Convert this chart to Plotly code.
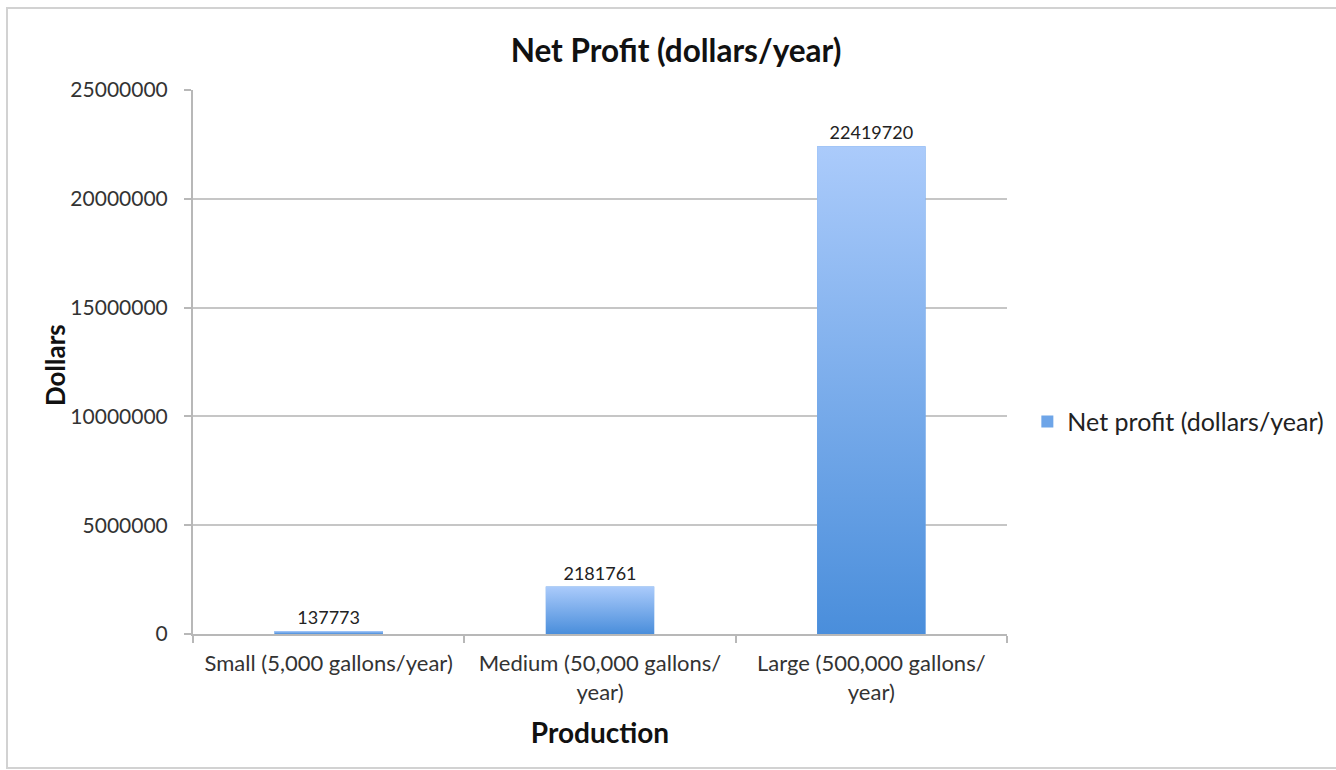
import plotly.graph_objects as go
import urllib.parse

# Net profit by production scale
categories = [
    "Small (5,000 gallons/year)",
    "Medium (50,000 gallons/<br>year)",
    "Large (500,000 gallons/<br>year)",
]
net_profit = [137773, 2181761, 22419720]
y_ticks = [0, 5000000, 10000000, 15000000, 20000000, 25000000]

FONT = "Lato, 'Open Sans', sans-serif"
TOP_BLUE = "#abcbfb"
BOTTOM_BLUE = "#4a8edb"

# vertical light-to-dark fill used for each column
svg = (
    '<svg xmlns="http://www.w3.org/2000/svg" width="10" height="100" '
    'viewBox="0 0 10 100" preserveAspectRatio="none">'
    '<defs><linearGradient id="g" x1="0" y1="0" x2="0" y2="1">'
    f'<stop offset="0" stop-color="{TOP_BLUE}"/>'
    f'<stop offset="1" stop-color="{BOTTOM_BLUE}"/>'
    '</linearGradient></defs>'
    '<rect x="0" y="0" width="10" height="100" fill="url(#g)"/></svg>'
)
gradient_src = "data:image/svg+xml;charset=utf-8," + urllib.parse.quote(svg)

BAR_WIDTH = 0.4

fig = go.Figure()
fig.add_trace(go.Bar(
    x=categories,
    y=net_profit,
    name="Net profit (dollars/year)",
    width=BAR_WIDTH,
    marker=dict(color="#6ea5e8", line=dict(width=0)),
    text=[str(v) for v in net_profit],
    textposition="outside",
    textfont=dict(family=FONT, size=18, color="#222222"),
    cliponaxis=False,
    showlegend=True,
))

images = []
for i, v in enumerate(net_profit):
    images.append(dict(
        source=gradient_src,
        xref="x", yref="y",
        x=i - BAR_WIDTH / 2, y=v,
        sizex=BAR_WIDTH, sizey=v,
        xanchor="left", yanchor="top",
        sizing="stretch",
        layer="above",
    ))

fig.update_layout(
    width=1336,
    height=770,
    margin=dict(l=193, r=329, t=90, b=136, autoexpand=False),
    paper_bgcolor="white",
    plot_bgcolor="white",
    images=images,
    title=dict(
        text="<b>Net Profit (dollars/year)</b>",
        font=dict(family=FONT, size=31.5, color="#111111"),
        x=(676 - 193) / 814, xref="paper", xanchor="center",
        y=1 - 51 / 770, yref="container", yanchor="middle",
    ),
    legend=dict(
        x=1.025, xanchor="left",
        y=0.39, yanchor="middle",
        font=dict(family=FONT, size=25, color="#222222"),
        bgcolor="rgba(0,0,0,0)",
    ),
    xaxis=dict(
        type="category",
        showline=True, linecolor="#b8b8b8", linewidth=2,
        ticks="outside", tickson="boundaries", ticklen=7,
        tickcolor="#b8b8b8", tickwidth=2,
        showgrid=False,
        ticklabelstandoff=9,
        tickfont=dict(family=FONT, size=22, color="#333333"),
        title=dict(text="<b>Production</b>",
                   font=dict(family=FONT, size=28, color="#111111"),
                   standoff=19),
    ),
    yaxis=dict(
        range=[0, 25000000],
        tickvals=y_ticks,
        ticktext=[str(t) for t in y_ticks],
        showline=True, linecolor="#b8b8b8", linewidth=2,
        ticks="outside", ticklen=7, tickcolor="#b8b8b8", tickwidth=2,
        showgrid=True, gridcolor="#c6c6c6", gridwidth=2,
        zeroline=False,
        ticklabelstandoff=12,
        tickfont=dict(family=FONT, size=21, color="#333333"),
    ),
    annotations=[dict(
        text="<b>Dollars</b>",
        xref="paper", yref="paper",
        x=(55 - 193) / 814, y=(634 - 365) / 544,
        xanchor="center", yanchor="middle",
        textangle=-90, showarrow=False,
        font=dict(family=FONT, size=26, color="#111111"),
    )],
    shapes=[dict(
        type="rect", xref="paper", yref="paper",
        x0=(7 - 193) / 814, x1=(1400 - 193) / 814,
        y0=(634 - 768) / 544, y1=(634 - 8) / 544,
        line=dict(color="#d2d2d2", width=2),
        fillcolor="rgba(0,0,0,0)",
        layer="below",
    )],
)

fig.write_html("out.html")
